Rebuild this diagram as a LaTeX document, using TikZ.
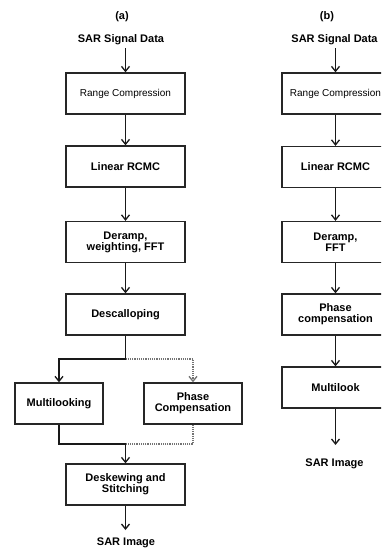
\documentclass[tikz,border=0pt]{standalone}
\usepackage{fontspec}
\setmainfont{Liberation Sans}
\usetikzlibrary{arrows.meta}
\tikzset{
  box/.style={draw=black!85, line width=1.3pt, rectangle, minimum width=119pt, minimum height=41pt, inner sep=1pt, align=center, font=\fontsize{11}{11}\selectfont\bfseries},
  lbl/.style={inner sep=3pt, font=\fontsize{11}{11}\selectfont\bfseries},
  tip/.style={-{Straight Barb[length=5pt,width=8pt,line width=1.3pt]}},
  arr/.style={line width=1.2pt, draw=black!90, tip},
  ln/.style={line width=1.2pt, draw=black!90},
  dot/.style={line width=1.2pt, draw=black!55, dash pattern=on 1.2pt off 1pt},
  doarr/.style={dot, tip},
}
\begin{document}
\begin{tikzpicture}[x=1pt,y=-1pt]
\useasboundingbox (0,0) rectangle (381,548);
\clip (0,0) rectangle (381,548);
% column (a)
\node[lbl] (ta) at (122,17) {(a)};
\node[lbl] (sigA) at (121,40) {SAR Signal Data};
\node[box, font=\fontsize{10}{11}\selectfont] (rcA) at (125.5,93.5) {Range Compression};
\node[box] (lrA) at (125.5,166.5) {Linear RCMC};
\node[box] (drA) at (125.5,242) {Deramp,\\weighting, FFT};
\node[box] (dsA) at (125.5,314.5) {Descalloping};
\node[box, minimum width=88pt] (mlA) at (59,403.5) {Multilooking};
\node[box, minimum width=98pt] (pcA) at (193,403.5) {Phase\\Compensation};
\node[box] (dkA) at (125.5,484.5) {Deskewing and\\Stitching};
\node[lbl] (imA) at (126,543) {SAR Image};
\coordinate (brA) at (125.5,359);
\coordinate (mgA) at (125.5,444);
\coordinate (endA) at (125.5,530);
\draw[arr] (sigA.south -| rcA.north) -- (rcA.north);
\draw[arr] (rcA) -- (lrA);
\draw[arr] (lrA) -- (drA);
\draw[arr] (drA) -- (dsA);
\draw[ln] (dsA.south) -- (brA);
\draw[arr] (brA) -| (mlA.north);
\draw[doarr] (brA) -| (pcA.north);
\draw[ln] (mlA.south) |- (mgA);
\draw[dot] (pcA.south) |- (mgA);
\draw[arr] (mgA) -- (dkA.north);
\draw[arr] (dkA.south) -- (endA);
% column (b)
\node[lbl] (tb) at (327,17) {(b)};
\node[lbl] (sigB) at (334.5,40) {SAR Signal Data};
\node[box, minimum width=107pt, font=\fontsize{10}{11}\selectfont] (rcB) at (335.5,93.5) {Range Compression};
\node[box, minimum width=107pt] (lrB) at (335.5,167) {Linear RCMC};
\node[box, minimum width=107pt] (dfB) at (335.5,242) {Deramp,\\FFT};
\node[box, minimum width=107pt] (pcB) at (335.5,314.5) {Phase\\compensation};
\node[box, minimum width=107pt] (mkB) at (335.5,387.5) {Multilook};
\node[lbl] (imB) at (334.5,464) {SAR Image};
\coordinate (endB) at (335.5,445);
\draw[arr] (sigB.south -| rcB.north) -- (rcB.north);
\draw[arr] (rcB) -- (lrB);
\draw[arr] (lrB) -- (dfB);
\draw[arr] (dfB) -- (pcB);
\draw[arr] (pcB) -- (mkB);
\draw[arr] (mkB.south) -- (endB);
\end{tikzpicture}
\end{document}
